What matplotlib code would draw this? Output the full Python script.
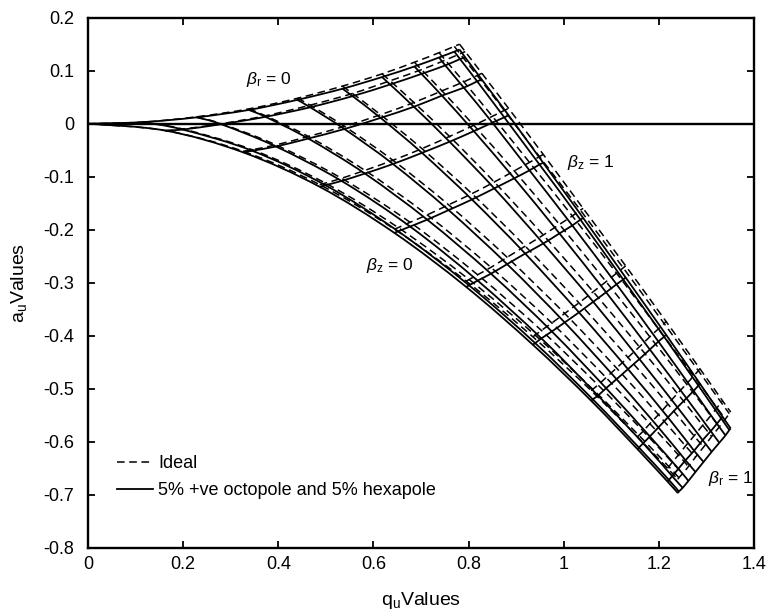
import matplotlib
matplotlib.use("Agg")
import matplotlib.pyplot as plt
from matplotlib.lines import Line2D
from matplotlib.path import Path
from matplotlib.patches import PathPatch

plt.rcParams['font.family'] = ['Liberation Sans', 'DejaVu Sans']
plt.rcParams['mathtext.fontset'] = 'custom'
plt.rcParams['mathtext.rm'] = 'Liberation Sans'
plt.rcParams['mathtext.it'] = 'Liberation Sans:italic'
plt.rcParams['axes.unicode_minus'] = False

# iso-beta mesh: rows = beta_r (0 .. 1 step 0.1), columns = beta_z (0 .. 1 step 0.1)
beta_levels = [0.0, 0.1, 0.2, 0.3, 0.4, 0.5, 0.6, 0.7, 0.8, 0.9, 1.0]

q_values = [
    [0.000, 0.115, 0.228, 0.338, 0.440, 0.535, 0.618, 0.686, 0.738, 0.770, 0.781],
    [0.163, 0.199, 0.280, 0.373, 0.467, 0.556, 0.635, 0.701, 0.751, 0.782, 0.793],
    [0.326, 0.345, 0.395, 0.463, 0.539, 0.615, 0.685, 0.744, 0.790, 0.818, 0.828],
    [0.487, 0.499, 0.533, 0.582, 0.641, 0.702, 0.760, 0.811, 0.850, 0.875, 0.884],
    [0.644, 0.652, 0.677, 0.713, 0.758, 0.807, 0.854, 0.896, 0.928, 0.949, 0.957],
    [0.795, 0.801, 0.819, 0.847, 0.881, 0.919, 0.957, 0.991, 1.018, 1.035, 1.041],
    [0.935, 0.940, 0.953, 0.975, 1.002, 1.032, 1.062, 1.089, 1.111, 1.125, 1.130],
    [1.058, 1.061, 1.072, 1.089, 1.111, 1.135, 1.159, 1.181, 1.199, 1.211, 1.215],
    [1.155, 1.158, 1.167, 1.181, 1.199, 1.219, 1.239, 1.258, 1.273, 1.283, 1.286],
    [1.218, 1.221, 1.228, 1.241, 1.256, 1.274, 1.292, 1.309, 1.322, 1.331, 1.334],
    [1.240, 1.242, 1.250, 1.262, 1.277, 1.294, 1.311, 1.327, 1.340, 1.348, 1.351],
]

a_ideal = [
    [0.000, 0.003, 0.013, 0.028, 0.048, 0.071, 0.094, 0.116, 0.134, 0.146, 0.150],
    [-0.013, -0.010, 0.000, 0.015, 0.035, 0.057, 0.081, 0.102, 0.120, 0.132, 0.136],
    [-0.052, -0.049, -0.040, -0.024, -0.005, 0.017, 0.040, 0.062, 0.079, 0.091, 0.095],
    [-0.115, -0.112, -0.103, -0.088, -0.069, -0.047, -0.024, -0.003, 0.014, 0.025, 0.029],
    [-0.199, -0.196, -0.186, -0.172, -0.153, -0.132, -0.110, -0.089, -0.073, -0.062, -0.058],
    [-0.297, -0.294, -0.285, -0.271, -0.252, -0.231, -0.210, -0.190, -0.174, -0.163, -0.160],
    [-0.402, -0.399, -0.390, -0.376, -0.358, -0.338, -0.317, -0.298, -0.282, -0.272, -0.268],
    [-0.504, -0.501, -0.493, -0.479, -0.461, -0.441, -0.421, -0.402, -0.387, -0.377, -0.373],
    [-0.591, -0.588, -0.580, -0.566, -0.549, -0.529, -0.509, -0.491, -0.476, -0.466, -0.462],
    [-0.650, -0.647, -0.639, -0.625, -0.608, -0.589, -0.569, -0.551, -0.536, -0.526, -0.523],
    [-0.671, -0.668, -0.660, -0.647, -0.629, -0.610, -0.590, -0.572, -0.557, -0.547, -0.544],
]

a_multipole = [
    [0.000, 0.003, 0.012, 0.026, 0.045, 0.066, 0.088, 0.108, 0.125, 0.136, 0.140],
    [-0.013, -0.011, -0.001, 0.013, 0.031, 0.052, 0.074, 0.094, 0.110, 0.122, 0.125],
    [-0.054, -0.051, -0.043, -0.028, -0.010, 0.011, 0.032, 0.053, 0.068, 0.080, 0.083],
    [-0.119, -0.116, -0.108, -0.094, -0.076, -0.055, -0.034, -0.014, 0.002, 0.012, 0.016],
    [-0.206, -0.203, -0.194, -0.181, -0.163, -0.143, -0.122, -0.103, -0.088, -0.077, -0.074],
    [-0.308, -0.305, -0.296, -0.283, -0.265, -0.245, -0.226, -0.207, -0.192, -0.181, -0.178],
    [-0.417, -0.414, -0.405, -0.392, -0.375, -0.356, -0.336, -0.318, -0.303, -0.294, -0.290],
    [-0.523, -0.520, -0.513, -0.499, -0.482, -0.463, -0.444, -0.426, -0.411, -0.402, -0.398],
    [-0.614, -0.611, -0.603, -0.590, -0.573, -0.554, -0.535, -0.518, -0.504, -0.494, -0.490],
    [-0.675, -0.672, -0.665, -0.651, -0.635, -0.617, -0.597, -0.580, -0.566, -0.556, -0.553],
    [-0.697, -0.694, -0.687, -0.674, -0.657, -0.638, -0.619, -0.602, -0.588, -0.578, -0.575],
]

x_ticks = [0, 0.2, 0.4, 0.6, 0.8, 1.0, 1.2, 1.4]
x_tick_labels = ["0", "0.2", "0.4", "0.6", "0.8", "1", "1.2", "1.4"]
y_ticks = [-0.8, -0.7, -0.6, -0.5, -0.4, -0.3, -0.2, -0.1, 0, 0.1, 0.2]
y_tick_labels = ["-0.8", "-0.7", "-0.6", "-0.5", "-0.4", "-0.3", "-0.2", "-0.1", "0", "0.1", "0.2"]

fig = plt.figure(figsize=(7.74, 6.15), dpi=100)
ax = fig.add_axes([0.1137, 0.1094, 0.8605, 0.8618])

n = len(beta_levels)
dash = dict(color='black', lw=1.1, linestyle=(0, (5, 3)))
solid = dict(color='black', lw=1.3, linestyle='-')


def smooth_line(ax, xs, ys, style):
    """Draw a smooth curve through the points using Bezier segments."""
    pts = list(zip(xs, ys))
    verts = [pts[0]]
    codes = [Path.MOVETO]
    m = len(pts)
    for k in range(m - 1):
        p0 = pts[max(k - 1, 0)]
        p1 = pts[k]
        p2 = pts[k + 1]
        p3 = pts[min(k + 2, m - 1)]
        c1 = (p1[0] + (p2[0] - p0[0]) / 6.0, p1[1] + (p2[1] - p0[1]) / 6.0)
        c2 = (p2[0] - (p3[0] - p1[0]) / 6.0, p2[1] - (p3[1] - p1[1]) / 6.0)
        verts += [c1, c2, p2]
        codes += [Path.CURVE4] * 3
    patch = PathPatch(Path(verts, codes), fill=False, edgecolor=style['color'],
                      lw=style['lw'], linestyle=style['linestyle'], capstyle='butt')
    ax.add_patch(patch)


for a_grid, style in ((a_ideal, dash), (a_multipole, solid)):
    for i in range(n):
        smooth_line(ax, q_values[i], a_grid[i], style)
    for j in range(n):
        smooth_line(ax, [q_values[i][j] for i in range(n)], [a_grid[i][j] for i in range(n)], style)

ax.axhline(0, color='black', lw=1.7)

ax.set_xlim(0, 1.4)
ax.set_ylim(-0.8, 0.2)
ax.set_xticks(x_ticks)
ax.set_xticklabels(x_tick_labels)
ax.set_yticks(y_ticks)
ax.set_yticklabels(y_tick_labels)
ax.tick_params(direction='in', top=True, right=True, length=5, width=1.3, labelsize=13)
ax.tick_params(axis='x', pad=6)
ax.tick_params(axis='y', pad=10)
for s in ax.spines.values():
    s.set_linewidth(1.7)

ax.set_xlabel(r'q$_\mathregular{u}$Values', fontsize=14, labelpad=12)
ax.set_ylabel(r'a$_\mathregular{u}$Values', fontsize=14, labelpad=10)

lab = dict(fontsize=12.5, va='center')
ax.text(0.333, 0.083, r'$\mathit{\beta}_\mathregular{r}$ = 0', **lab)
ax.text(1.006, -0.074, r'$\mathit{\beta}_\mathregular{z}$ = 1', **lab)
ax.text(0.584, -0.268, r'$\mathit{\beta}_\mathregular{z}$ = 0', **lab)
ax.text(1.304, -0.670, r'$\mathit{\beta}_\mathregular{r}$ = 1', **lab)

handles = [Line2D([], [], **dash), Line2D([], [], **solid)]
ax.legend(handles, ['Ideal', '5% +ve octopole and 5% hexapole'], loc='upper left',
          bbox_to_anchor=(0.043, 0.174), frameon=False, fontsize=13, handlelength=2.0,
          handletextpad=0.3, labelspacing=0.55, borderaxespad=0, borderpad=0)

fig.savefig('out.png', dpi=100)
